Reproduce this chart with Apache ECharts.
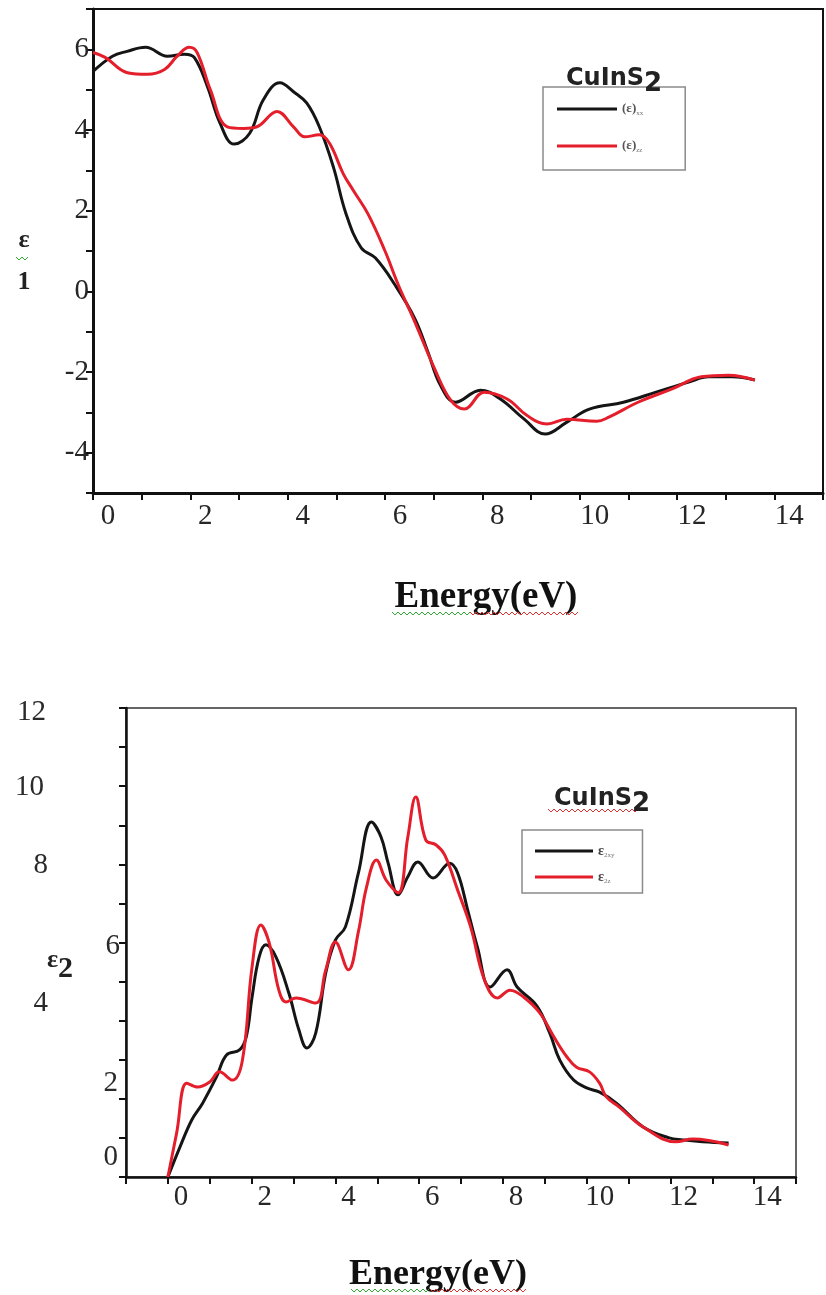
<!DOCTYPE html>
<html>
<head>
<meta charset="utf-8">
<script src="https://cdn.jsdelivr.net/npm/echarts@6/dist/echarts.min.js"></script>
<style>
  html, body { margin: 0; padding: 0; background: #fff; }
  #app { width: 826px; height: 1295px; }
</style>
</head>
<body>
<div id="app"></div>
<script>
// eps1 (real part), top panel
var e1xxE = [0, 0.4, 0.7, 1.08, 1.53, 1.88, 2.08, 2.35, 2.61, 2.9, 3.22, 3.5, 3.84, 4.12, 4.39, 4.65, 4.94, 5.2, 5.51, 5.8, 6.2, 6.61, 6.88, 7.14, 7.45, 7.96, 8.37, 8.86, 9.29, 9.73, 10.2, 10.9, 11.57, 12.24, 12.65, 13.14, 13.6];
var e1xxV = [5.45, 5.83, 5.95, 6.05, 5.83, 5.88, 5.8, 5.08, 4.17, 3.65, 3.92, 4.75, 5.17, 4.95, 4.67, 4.08, 3.08, 1.92, 1.08, 0.83, 0.17, -0.67, -1.5, -2.33, -2.75, -2.45, -2.67, -3.17, -3.54, -3.25, -2.92, -2.75, -2.5, -2.25, -2.12, -2.12, -2.2];
var e1zzE = [0, 0.25, 0.71, 1.12, 1.47, 1.73, 1.98, 2.14, 2.41, 2.76, 3.1, 3.37, 3.78, 4.12, 4.35, 4.65, 4.86, 5.14, 5.35, 5.65, 6.0, 6.27, 6.61, 7.02, 7.35, 7.63, 8.04, 8.51, 8.92, 9.33, 9.73, 10.35, 10.6, 11.2, 11.9, 12.5, 13.06, 13.6];
var e1zzV = [5.92, 5.8, 5.42, 5.38, 5.5, 5.83, 6.05, 5.92, 5.0, 4.08, 4.04, 4.08, 4.46, 4.08, 3.83, 3.88, 3.67, 2.92, 2.5, 1.92, 1.0, 0.17, -0.75, -1.92, -2.7, -2.92, -2.5, -2.67, -3.08, -3.29, -3.17, -3.22, -3.12, -2.75, -2.42, -2.12, -2.08, -2.2];

// eps2 (imaginary part), bottom panel
var e2xyE = [0, 0.29, 0.57, 0.83, 1.16, 1.4, 1.71, 1.87, 2.01, 2.18, 2.34, 2.58, 2.89, 3.13, 3.32, 3.53, 3.77, 4.0, 4.24, 4.55, 4.86, 5.09, 5.26, 5.5, 5.73, 5.97, 6.33, 6.73, 6.92, 7.16, 7.39, 7.7, 8.1, 8.34, 8.81, 9.12, 9.36, 9.69, 10.0, 10.31, 10.71, 11.35, 11.97, 12.3, 12.77, 13.39];
var e2xyV = [0, 0.77, 1.46, 1.89, 2.56, 3.12, 3.25, 3.58, 4.6, 5.63, 5.94, 5.63, 4.7, 3.76, 3.3, 3.68, 5.22, 6.06, 6.4, 7.78, 9.08, 8.7, 8.03, 7.22, 7.68, 8.06, 7.65, 8.03, 7.78, 6.83, 5.89, 4.86, 5.3, 4.86, 4.38, 3.68, 2.99, 2.48, 2.28, 2.17, 1.89, 1.28, 1.0, 0.95, 0.9, 0.87];
var e2zE = [0, 0.21, 0.45, 0.71, 1.0, 1.23, 1.54, 1.78, 2.01, 2.22, 2.42, 2.65, 2.82, 3.06, 3.53, 3.77, 4.0, 4.31, 4.55, 4.74, 4.98, 5.21, 5.5, 5.73, 5.92, 6.16, 6.4, 6.61, 6.92, 7.23, 7.56, 7.87, 8.17, 8.5, 8.88, 9.22, 9.53, 9.76, 10.07, 10.31, 10.47, 10.78, 11.35, 12.13, 12.53, 13.39];
var e2zV = [0, 1.13, 2.4, 2.3, 2.43, 2.69, 2.48, 2.99, 5.37, 6.45, 5.99, 4.78, 4.48, 4.58, 4.45, 5.3, 6.01, 5.3, 6.28, 7.4, 8.11, 7.6, 7.27, 8.7, 9.72, 8.62, 8.5, 8.24, 7.34, 6.4, 5.04, 4.58, 4.78, 4.6, 4.2, 3.58, 3.07, 2.81, 2.69, 2.4, 2.05, 1.79, 1.28, 0.9, 0.97, 0.82];

var xLabels = [0, 2, 4, 6, 8, 10, 12, 14];
var y1Labels = [-4, -2, 0, 2, 4, 6];
var y2Labels = [0, 2, 4, 6, 8, 10, 12];

var BLACK = '#151515';
var RED = '#e41e2b';
var SERIF = '"Liberation Serif", "Times New Roman", serif';

function zip(xs, ys) {
    return xs.map(function (x, i) { return [x, ys[i]]; });
}

function wavy(x0, x1, y, color) {
    var pts = [];
    for (var x = x0, k = 0; x <= x1; x += 3, k++) pts.push([x, y + (k % 2 ? 2 : -1)]);
    return { type: 'polyline', shape: { points: pts }, style: { stroke: color, lineWidth: 1, fill: null }, silent: true };
}

function lbl(shown, pad, margin) {
    return {
        margin: margin,
        fontFamily: SERIF, fontSize: 29, color: '#262626',
        padding: pad,
        formatter: function (v) { return shown.indexOf(v) >= 0 ? String(v) : ''; }
    };
}

var chart = echarts.init(document.getElementById('app'), null, { renderer: 'canvas' });

// bottom panel y labels sit in odd places in the source figure
var y2Rich = {
    v12: { padding: [8, 74, 0, 0] },
    v10: { padding: [2, 76, 0, 0] },
    v8: { padding: [2, 72, 0, 0] },
    v6: { padding: [8, 0, 0, 0] },
    v4: { padding: [0, 72, 34, 0] },
    v2: { padding: [0, 2, 30, 0] },
    v0: { padding: [0, 2, 40, 0] }
};
Object.keys(y2Rich).forEach(function (k) {
    y2Rich[k].fontFamily = SERIF;
    y2Rich[k].fontSize = 29;
    y2Rich[k].color = '#2a2a2a';
});

var titleRich = {
    a: { fontFamily: 'DejaVu Sans', fontWeight: 'bold', fontSize: 24, color: '#222' },
    b: { fontFamily: 'DejaVu Sans', fontWeight: 'bold', fontSize: 26, color: '#222', padding: [10, 0, 0, 0] }
};

var option = {
    animation: false,
    backgroundColor: '#fff',
    grid: [
        { left: 93, top: 9, width: 735, height: 484, show: true, borderColor: '#111', borderWidth: 2, backgroundColor: 'transparent' },
        { left: 126, top: 708, width: 670, height: 469, show: true, borderColor: '#333', borderWidth: 1.5, backgroundColor: 'transparent' }
    ],
    xAxis: [
        {
            gridIndex: 0, type: 'value', min: 0, max: 15, interval: 1,
            splitLine: { show: false },
            axisLine: { onZero: false, lineStyle: { color: '#111', width: 3 } },
            axisTick: { length: 7, lineStyle: { color: '#111', width: 2 } },
            axisLabel: lbl(xLabels, [0, 0, 0, 30], 9)
        },
        {
            gridIndex: 1, type: 'value', min: -1, max: 15, interval: 1,
            splitLine: { show: false },
            axisLine: { onZero: false, lineStyle: { color: '#111', width: 2.5 } },
            axisTick: { length: 7, lineStyle: { color: '#111', width: 2 } },
            axisLabel: lbl(xLabels, [0, 0, 0, 26], 6)
        }
    ],
    yAxis: [
        {
            gridIndex: 0, type: 'value', min: -5, max: 7, interval: 1,
            splitLine: { show: false },
            axisLine: { onZero: false, lineStyle: { color: '#111', width: 3 } },
            axisTick: { length: 7, lineStyle: { color: '#111', width: 2 } },
            axisLabel: lbl(y1Labels, [0, 0, 0, 0], 4)
        },
        {
            gridIndex: 1, type: 'value', min: 0, max: 12, interval: 1,
            splitLine: { show: false },
            axisLine: { onZero: false, lineStyle: { color: '#111', width: 2.5 } },
            axisTick: { length: 7, lineStyle: { color: '#111', width: 2 } },
            axisLabel: {
                margin: 6,
                formatter: function (v) {
                    return y2Labels.indexOf(v) >= 0 ? '{v' + v + '|' + v + '}' : '';
                },
                rich: y2Rich
            }
        }
    ],
    title: [
        { text: '{a|CuInS}{b|2}', left: 561, top: 56, textStyle: { rich: titleRich } },
        { text: '{a|CuInS}{b|2}', left: 549, top: 776, textStyle: { rich: titleRich } }
    ],
    legend: [
        {
            data: ['e1xx', 'e1zz'], orient: 'vertical', left: 543, top: 87,
            padding: [14, 42, 16, 14], itemGap: 21, itemWidth: 60, itemHeight: 3, icon: 'rect',
            borderColor: '#8a8a8a', borderWidth: 1.5, backgroundColor: '#fff',
            formatter: function (n) { return n === 'e1xx' ? '{b|(ε)}{s|xx}' : '{b|(ε)}{s|zz}'; },
            textStyle: { lineHeight: 16, rich: {
                b: { fontFamily: SERIF, fontSize: 13, fontWeight: 'bold', color: '#555' },
                s: { fontFamily: SERIF, fontSize: 7, color: '#777', padding: [8, 0, 0, 0] } } }
        },
        {
            data: ['e2xy', 'e2z'], orient: 'vertical', left: 522, top: 830,
            padding: [13, 28, 8, 13], itemGap: 10, itemWidth: 58, itemHeight: 3, icon: 'rect',
            borderColor: '#8a8a8a', borderWidth: 1.5, backgroundColor: '#fff',
            formatter: function (n) { return n === 'e2xy' ? '{b|ε}{s|2xy}' : '{b|ε}{s|2z}'; },
            textStyle: { lineHeight: 16, rich: {
                b: { fontFamily: SERIF, fontSize: 14, fontWeight: 'bold', color: '#444' },
                s: { fontFamily: SERIF, fontSize: 7, color: '#777', padding: [9, 0, 0, 0] } } }
        }
    ],
    graphic: [
        { type: 'text', x: 24, y: 240, silent: true, style: { text: 'ε', font: 'bold 26px ' + SERIF, fill: '#222', align: 'center', verticalAlign: 'middle', textAlign: 'center', textVerticalAlign: 'middle' } },
        { type: 'text', x: 24, y: 282, silent: true, style: { text: '1', font: 'bold 26px ' + SERIF, fill: '#222', align: 'center', verticalAlign: 'middle', textAlign: 'center', textVerticalAlign: 'middle' } },
        { type: 'text', x: 47, y: 965, silent: true, style: { text: '{e|ε}{t|2}', rich: {
            e: { fontFamily: SERIF, fontSize: 26, fontWeight: 'bold', fill: '#222', padding: [0, 0, 10, 0] },
            t: { fontFamily: SERIF, fontSize: 30, fontWeight: 'bold', fill: '#222', padding: [8, 0, 0, 0] } },
            align: 'left', verticalAlign: 'middle', textAlign: 'left', textVerticalAlign: 'middle' } },
        { type: 'text', x: 486, y: 597, silent: true, style: { text: 'Energy(eV)', font: 'bold 37px ' + SERIF, fill: '#111', align: 'center', verticalAlign: 'middle', textAlign: 'center', textVerticalAlign: 'middle' } },
        { type: 'text', x: 438, y: 1275, silent: true, style: { text: 'Energy(eV)', font: 'bold 36px ' + SERIF, fill: '#111', align: 'center', verticalAlign: 'middle', textAlign: 'center', textVerticalAlign: 'middle' } },
        wavy(560, 650, 91, '#d33'),
        wavy(548, 640, 810, '#d33'),
        wavy(392, 470, 613, '#3a3'),
        wavy(470, 580, 613, '#d33'),
        wavy(351, 430, 1290, '#3a3'),
        wavy(430, 526, 1290, '#d33'),
        wavy(16, 30, 258, '#3a3')
    ],
    series: [
        { name: 'e1xx', type: 'line', xAxisIndex: 0, yAxisIndex: 0, data: zip(e1xxE, e1xxV), smooth: 0.4, symbol: 'none', lineStyle: { color: BLACK, width: 3 }, itemStyle: { color: BLACK } },
        { name: 'e1zz', type: 'line', xAxisIndex: 0, yAxisIndex: 0, data: zip(e1zzE, e1zzV), smooth: 0.4, symbol: 'none', lineStyle: { color: RED, width: 3 }, itemStyle: { color: RED } },
        { name: 'e2xy', type: 'line', xAxisIndex: 1, yAxisIndex: 1, data: zip(e2xyE, e2xyV), smooth: 0.4, symbol: 'none', lineStyle: { color: BLACK, width: 3 }, itemStyle: { color: BLACK } },
        { name: 'e2z', type: 'line', xAxisIndex: 1, yAxisIndex: 1, data: zip(e2zE, e2zV), smooth: 0.4, symbol: 'none', lineStyle: { color: RED, width: 3 }, itemStyle: { color: RED } }
    ]
};

chart.setOption(option);
addEventListener('resize', function () { chart.resize(); });
</script>
</body>
</html>
